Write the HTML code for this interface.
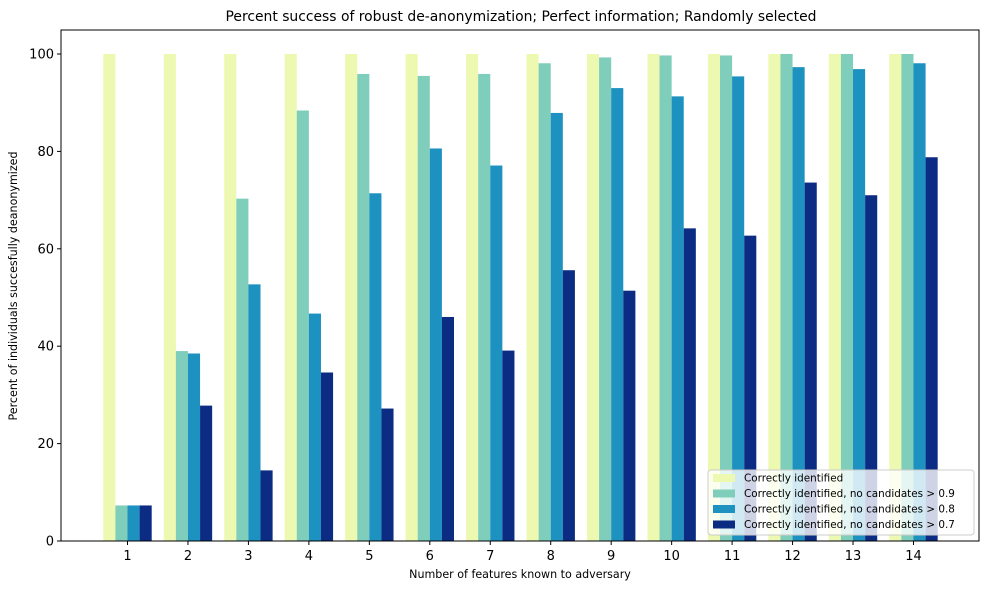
<!DOCTYPE html>
<html><head><meta charset="utf-8"><style>
body{margin:0;background:#fff;font-family:"Liberation Sans","DejaVu Sans",sans-serif}
</style></head><body>
<svg id="c" width="989" height="590" xmlns="http://www.w3.org/2000/svg" font-family="DejaVu Sans, Liberation Sans, sans-serif"></svg>
<script>
const categories=[1,2,3,4,5,6,7,8,9,10,11,12,13,14];
const seriesNames=["Correctly identified","Correctly identified, no candidates > 0.9","Correctly identified, no candidates > 0.8","Correctly identified, no candidates > 0.7"];
const s0=[100,100,100,100,100,100,100,100,100,100,100,100,100,100];
const s1=[7.3,39,70.3,88.4,95.9,95.5,95.9,98.1,99.3,99.7,99.7,100,100,100];
const s2=[7.3,38.5,52.7,46.7,71.4,80.6,77.1,87.9,93,91.3,95.4,97.3,96.9,98.1];
const s3=[7.3,27.8,14.5,34.6,27.2,46,39.1,55.6,51.4,64.2,62.7,73.6,71,78.8];
const yTicks=[0,20,40,60,80,100];
const series=[s0,s1,s2,s3];
const colors=["#edf8b1","#7fcdbb","#1d91c0","#0c2c84"];
const svg=document.getElementById('c');const NS="http://www.w3.org/2000/svg";
const L=61,R=979,T=30,B=541;
const x=v=>127.5+(v-1)*60.46;
const y=v=>541-v*4.87;
function mk(t,a,p){const e=document.createElementNS(NS,t);for(const k in a)e.setAttribute(k,a[k]);(p||svg).appendChild(e);return e;}
const bw=12.1;
series.forEach((s,si)=>{s.forEach((v,i)=>{
 const r=mk('rect',{x:x(categories[i])-2*bw+si*bw,y:y(v),width:bw,height:y(0)-y(v),fill:colors[si]});
 
 
});});
const fr=mk('rect',{x:L,y:T,width:R-L,height:B-T,fill:'none',stroke:'#000','stroke-width':1});

categories.forEach(c=>{mk('line',{x1:x(c),x2:x(c),y1:B,y2:B+4,stroke:'#000'});
 const t=mk('text',{x:x(c),y:B+19,'text-anchor':'middle','font-size':13});t.textContent=c;
 });
yTicks.forEach(v=>{mk('line',{x1:L-4,x2:L,y1:y(v),y2:y(v),stroke:'#000'});
 const t=mk('text',{x:L-7,y:y(v)+4.5,'text-anchor':'end','font-size':13});t.textContent=v;
 });
let t=mk('text',{x:521,y:21,'text-anchor':'middle','font-size':13.9});t.textContent="Percent success of robust de-anonymization; Perfect information; Randomly selected";

t=mk('text',{x:520,y:578,'text-anchor':'middle','font-size':11.1});t.textContent="Number of features known to adversary";

t=mk('text',{x:17,y:286,'text-anchor':'middle','font-size':11.1,transform:'rotate(-90 17 286)'});t.textContent="Percent of individuals succesfully deanonymized";

const lg=mk('g',{});
mk('rect',{x:708,y:470,width:266,height:65,rx:3,fill:'#fff','fill-opacity':0.8,stroke:'#ccc'},lg);
seriesNames.forEach((n,i)=>{const yy=478+i*15.5;
 mk('rect',{x:713,y:yy-4,width:22,height:8,fill:colors[i]},lg);
 const e=mk('text',{x:744,y:yy+3.5,'font-size':10.4},lg);e.textContent=n;
 });
</script>
</body></html>
